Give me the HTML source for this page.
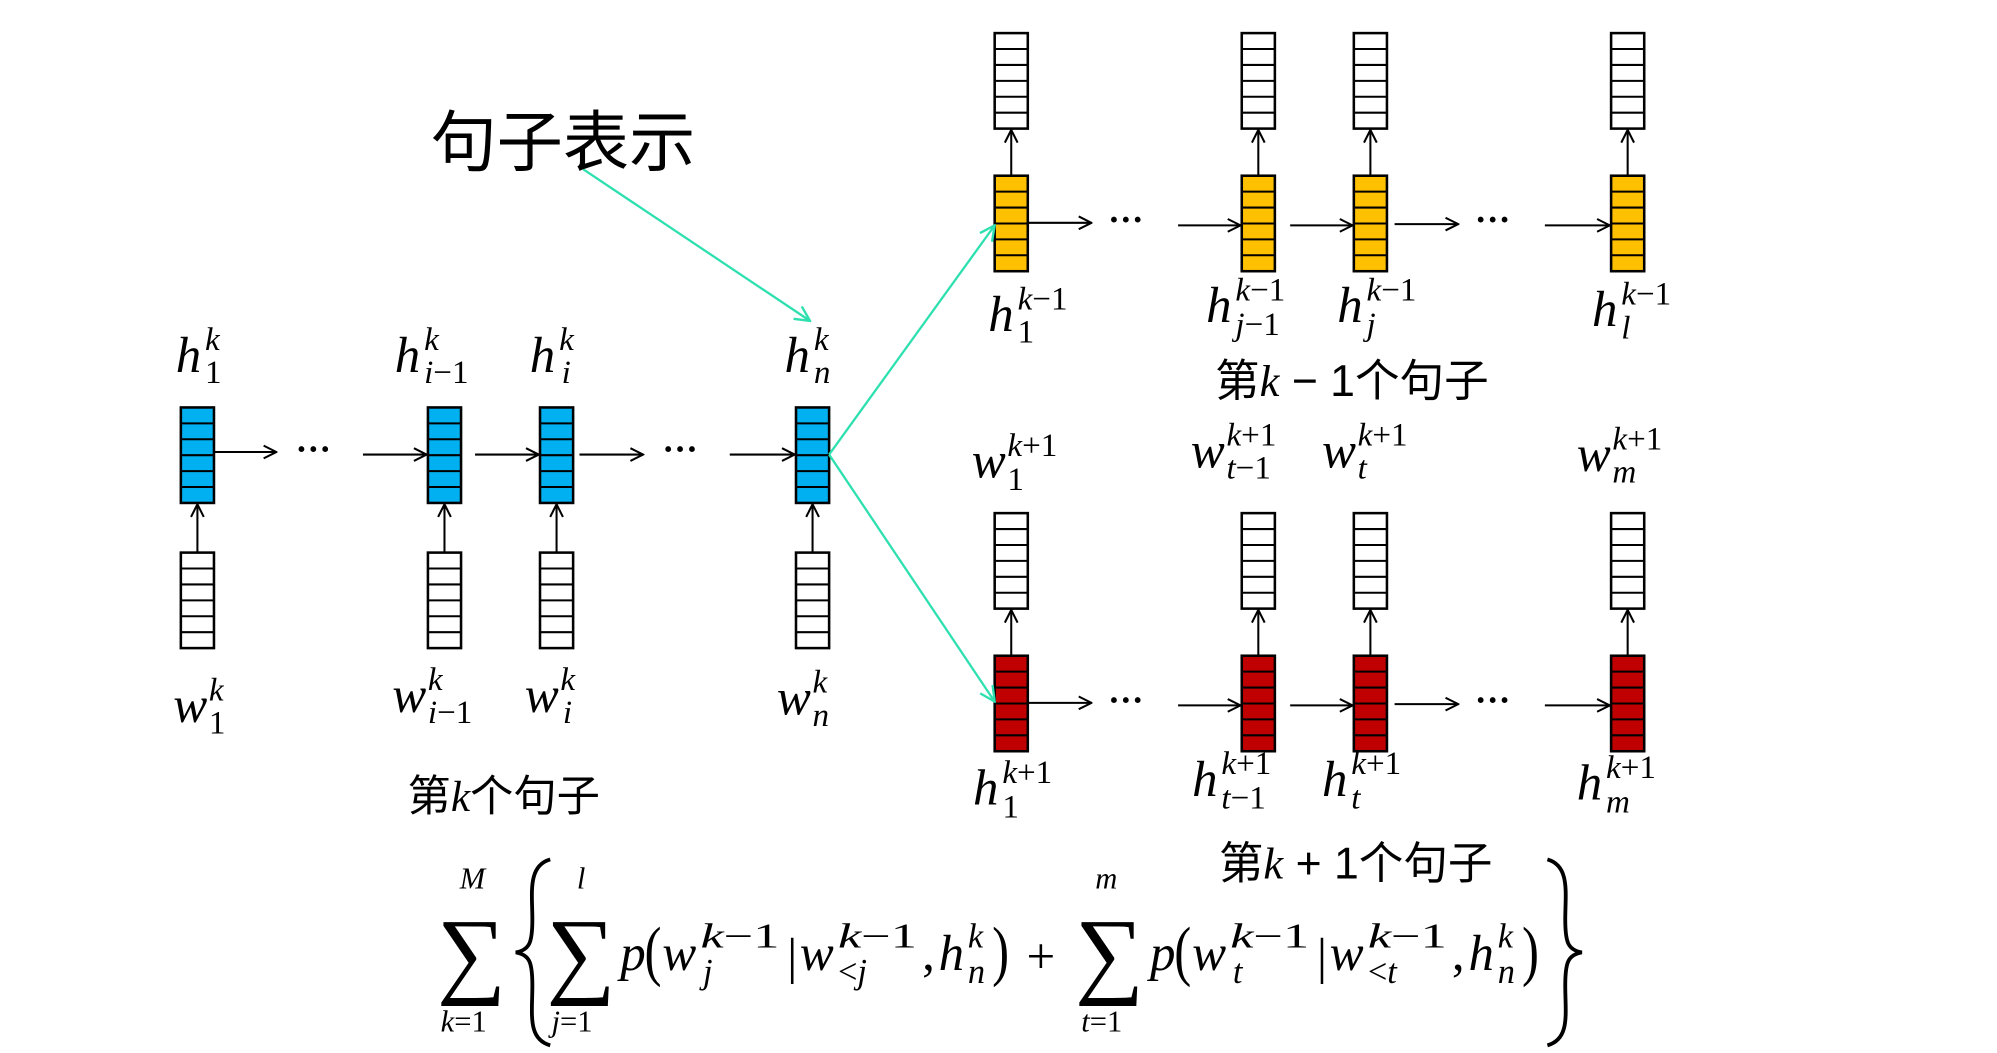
<!DOCTYPE html>
<html><head><meta charset="utf-8"><style>
html,body{margin:0;padding:0;background:#fff;}
svg{display:block}
.m{font-family:"Liberation Serif","DejaVu Serif",serif;font-style:italic;fill:#000}
.r{font-family:"Liberation Serif","DejaVu Serif",serif;font-style:normal;fill:#000}
.c{font-family:"Liberation Sans","Noto Sans CJK SC",sans-serif;fill:#000}
</style></head><body>
<svg width="1997" height="1053" viewBox="0 0 1568 827" preserveAspectRatio="none" xmlns="http://www.w3.org/2000/svg">
<defs>
<g id="lines" stroke="#000" stroke-width="1.6"><line x1="0" y1="12.5" x2="26" y2="12.5"/><line x1="0" y1="25" x2="26" y2="25"/><line x1="0" y1="37.5" x2="26" y2="37.5"/><line x1="0" y1="50" x2="26" y2="50"/><line x1="0" y1="62.5" x2="26" y2="62.5"/></g>
<g id="bw"><rect x="0" y="0" width="26" height="75" fill="#fff" stroke="#000" stroke-width="2"/><use href="#lines"/></g>
<g id="bb"><rect x="0" y="0" width="26" height="75" fill="#00b0f0" stroke="#000" stroke-width="2"/><use href="#lines"/></g>
<g id="bo"><rect x="0" y="0" width="26" height="75" fill="#ffc000" stroke="#000" stroke-width="2"/><use href="#lines"/></g>
<g id="br"><rect x="0" y="0" width="26" height="75" fill="#c00000" stroke="#000" stroke-width="2"/><use href="#lines"/></g>
<marker id="a" viewBox="0 0 12 12" refX="11" refY="6" markerWidth="12" markerHeight="12" markerUnits="userSpaceOnUse" orient="auto"><path d="M1,1 L11,6 L1,11" fill="none" stroke="#000" stroke-width="1.6"/></marker>
<marker id="g" viewBox="0 0 12 12" refX="11" refY="6" markerWidth="14" markerHeight="14" markerUnits="userSpaceOnUse" orient="auto"><path d="M1,1 L11,6 L1,11" fill="none" stroke="#2ee0b0" stroke-width="1.6"/></marker>
</defs>

<use href="#bb" x="142" y="320"/><use href="#bb" x="336" y="320"/><use href="#bb" x="424" y="320"/><use href="#bb" x="625" y="320"/>
<use href="#bw" x="142" y="434"/><use href="#bw" x="336" y="434"/><use href="#bw" x="424" y="434"/><use href="#bw" x="625" y="434"/>
<g stroke="#000" stroke-width="1.6" marker-end="url(#a)">
<line x1="155" y1="434" x2="155" y2="396"/><line x1="349" y1="434" x2="349" y2="396"/><line x1="437" y1="434" x2="437" y2="396"/><line x1="638" y1="434" x2="638" y2="396"/>
<line x1="168" y1="355" x2="217" y2="355"/><line x1="285" y1="357" x2="335" y2="357"/><line x1="373" y1="357" x2="423" y2="357"/><line x1="455" y1="357" x2="505" y2="357"/><line x1="573" y1="357" x2="624" y2="357"/>
</g>
<text class="r" x="232" y="362" font-size="28" font-weight="bold">···</text>
<text class="r" x="520" y="362" font-size="28" font-weight="bold">···</text>

<use href="#bo" x="781" y="138"/><use href="#bo" x="975" y="138"/><use href="#bo" x="1063" y="138"/><use href="#bo" x="1265" y="138"/>
<use href="#bw" x="781" y="26"/><use href="#bw" x="975" y="26"/><use href="#bw" x="1063" y="26"/><use href="#bw" x="1265" y="26"/>
<use href="#br" x="781" y="515"/><use href="#br" x="975" y="515"/><use href="#br" x="1063" y="515"/><use href="#br" x="1265" y="515"/>
<use href="#bw" x="781" y="403"/><use href="#bw" x="975" y="403"/><use href="#bw" x="1063" y="403"/><use href="#bw" x="1265" y="403"/>
<g stroke="#000" stroke-width="1.6" marker-end="url(#a)">
<line x1="794" y1="138" x2="794" y2="102"/><line x1="988" y1="138" x2="988" y2="102"/><line x1="1076" y1="138" x2="1076" y2="102"/><line x1="1278" y1="138" x2="1278" y2="102"/>
<line x1="807" y1="175" x2="857" y2="175"/><line x1="925" y1="177" x2="974" y2="177"/><line x1="1013" y1="177" x2="1062" y2="177"/><line x1="1095" y1="176" x2="1145" y2="176"/><line x1="1213" y1="177" x2="1264" y2="177"/>
<line x1="794" y1="515" x2="794" y2="479"/><line x1="988" y1="515" x2="988" y2="479"/><line x1="1076" y1="515" x2="1076" y2="479"/><line x1="1278" y1="515" x2="1278" y2="479"/>
<line x1="807" y1="552" x2="857" y2="552"/><line x1="925" y1="554" x2="974" y2="554"/><line x1="1013" y1="554" x2="1062" y2="554"/><line x1="1095" y1="553" x2="1145" y2="553"/><line x1="1213" y1="554" x2="1264" y2="554"/>
</g>
<text class="r" x="870" y="182" font-size="28" font-weight="bold">···</text>
<text class="r" x="1158" y="182" font-size="28" font-weight="bold">···</text>
<text class="r" x="870" y="559" font-size="28" font-weight="bold">···</text>
<text class="r" x="1158" y="559" font-size="28" font-weight="bold">···</text>

<g stroke="#2ee0b0" stroke-width="1.8" marker-end="url(#g)">
<line x1="458" y1="133" x2="636" y2="252"/>
<line x1="651" y1="357" x2="781" y2="177"/>
<line x1="651" y1="357" x2="781" y2="551"/>
</g>

<text class="c" x="338" y="130" font-size="52">句子表示</text>

<g class="m">
<text x="138" y="292" font-size="40">h</text><text x="161" y="275" font-size="26">k</text><text x="161" y="301" font-size="26" class="r">1</text>
<text x="310" y="292" font-size="40">h</text><text x="333" y="275" font-size="26">k</text><text x="333" y="301" font-size="26">i<tspan class="r">−1</tspan></text>
<text x="416" y="292" font-size="40">h</text><text x="439" y="275" font-size="26">k</text><text x="441" y="301" font-size="26">i</text>
<text x="616" y="292" font-size="40">h</text><text x="639" y="275" font-size="26">k</text><text x="639" y="301" font-size="26">n</text>
<text x="136" y="567" font-size="40">w</text><text x="164" y="550" font-size="26">k</text><text x="164" y="576" font-size="26" class="r">1</text>
<text x="308" y="559" font-size="40">w</text><text x="336" y="542" font-size="26">k</text><text x="336" y="568" font-size="26">i<tspan class="r">−1</tspan></text>
<text x="412" y="559" font-size="40">w</text><text x="440" y="542" font-size="26">k</text><text x="442" y="568" font-size="26">i</text>
<text x="610" y="561" font-size="40">w</text><text x="638" y="544" font-size="26">k</text><text x="638" y="570" font-size="26">n</text>
</g>
<text x="320" y="637" font-size="34" class="c">第<tspan class="m">k</tspan>个句子</text>

<g class="m">
<text x="776" y="260" font-size="40">h</text><text x="799" y="243" font-size="26">k<tspan class="r">−1</tspan></text><text x="799" y="269" font-size="26" class="r">1</text>
<text x="947" y="253" font-size="40">h</text><text x="970" y="236" font-size="26">k<tspan class="r">−1</tspan></text><text x="970" y="263" font-size="26">j<tspan class="r">−1</tspan></text>
<text x="1050" y="253" font-size="40">h</text><text x="1073" y="236" font-size="26">k<tspan class="r">−1</tspan></text><text x="1073" y="263" font-size="26">j</text>
<text x="1250" y="256" font-size="40">h</text><text x="1273" y="239" font-size="26">k<tspan class="r">−1</tspan></text><text x="1273" y="266" font-size="26">l</text>

<text x="763" y="375" font-size="40">w</text><text x="791" y="358" font-size="26">k<tspan class="r">+1</tspan></text><text x="791" y="385" font-size="26" class="r">1</text>
<text x="935" y="367" font-size="40">w</text><text x="963" y="350" font-size="26">k<tspan class="r">+1</tspan></text><text x="963" y="376" font-size="26">t<tspan class="r">−1</tspan></text>
<text x="1038" y="367" font-size="40">w</text><text x="1066" y="350" font-size="26">k<tspan class="r">+1</tspan></text><text x="1066" y="376" font-size="26">t</text>
<text x="1238" y="370" font-size="40">w</text><text x="1266" y="353" font-size="26">k<tspan class="r">+1</tspan></text><text x="1266" y="379" font-size="26">m</text>

<text x="764" y="632" font-size="40">h</text><text x="787" y="615" font-size="26">k<tspan class="r">+1</tspan></text><text x="787" y="642" font-size="26" class="r">1</text>
<text x="936" y="625" font-size="40">h</text><text x="959" y="608" font-size="26">k<tspan class="r">+1</tspan></text><text x="959" y="635" font-size="26">t<tspan class="r">−1</tspan></text>
<text x="1038" y="625" font-size="40">h</text><text x="1061" y="608" font-size="26">k<tspan class="r">+1</tspan></text><text x="1061" y="635" font-size="26">t</text>
<text x="1238" y="628" font-size="40">h</text><text x="1261" y="611" font-size="26">k<tspan class="r">+1</tspan></text><text x="1261" y="638" font-size="26">m</text>
</g>
<text x="954" y="311" font-size="35" class="c">第<tspan class="m">k</tspan> − 1个句子</text>
<text x="957" y="690" font-size="35" class="c">第<tspan class="m">k</tspan> + 1个句子</text>

<g>
<text class="m" x="361" y="698" font-size="24">M</text>
<text class="r" x="343" y="774" font-size="76">∑</text>
<text class="m" x="346" y="810" font-size="24">k<tspan class="r">=1</tspan></text>
<path d="M432,675 C414,680 418,702 418,722 C418,740 416,746 405,748 C416,750 418,756 418,774 C418,796 414,816 432,821" fill="none" stroke="#000" stroke-width="3"/>
<text class="m" x="453" y="698" font-size="24">l</text>
<text class="r" x="429" y="774" font-size="76">∑</text>
<text class="m" x="433" y="810" font-size="24">j<tspan class="r">=1</tspan></text>
<text class="m" x="487" y="762" font-size="40">p</text>
<text class="r" transform="translate(506,764) scale(1,1.3)" font-size="40">(</text>
<text class="m" x="520" y="762" font-size="40">w</text><text class="m" x="550" y="744" font-size="27" textLength="62" lengthAdjust="spacingAndGlyphs">k<tspan class="r">−1</tspan></text><text class="m" x="552" y="772" font-size="27">j</text>
<text class="r" x="618" y="764" font-size="40">|</text>
<text class="m" x="628" y="762" font-size="40">w</text><text class="m" x="658" y="744" font-size="27" textLength="62" lengthAdjust="spacingAndGlyphs">k<tspan class="r">−1</tspan></text><text class="m" x="658" y="772" font-size="27"><tspan class="r">&lt;</tspan>j</text>
<text class="r" x="724" y="762" font-size="40">,</text>
<text class="m" x="737" y="762" font-size="40">h</text><text class="m" x="760" y="744" font-size="27">k</text><text class="m" x="760" y="772" font-size="27">n</text>
<text class="r" transform="translate(779,764) scale(1,1.3)" font-size="40">)</text>
<text class="r" x="806" y="764" font-size="40">+</text>
<text class="m" x="860" y="698" font-size="24">m</text>
<text class="r" x="844" y="774" font-size="76">∑</text>
<text class="m" x="849" y="810" font-size="24">t<tspan class="r">=1</tspan></text>
<text class="m" x="903" y="762" font-size="40">p</text>
<text class="r" transform="translate(922,764) scale(1,1.3)" font-size="40">(</text>
<text class="m" x="936" y="762" font-size="40">w</text><text class="m" x="966" y="744" font-size="27" textLength="62" lengthAdjust="spacingAndGlyphs">k<tspan class="r">−1</tspan></text><text class="m" x="968" y="772" font-size="27">t</text>
<text class="r" x="1034" y="764" font-size="40">|</text>
<text class="m" x="1044" y="762" font-size="40">w</text><text class="m" x="1074" y="744" font-size="27" textLength="62" lengthAdjust="spacingAndGlyphs">k<tspan class="r">−1</tspan></text><text class="m" x="1074" y="772" font-size="27"><tspan class="r">&lt;</tspan>t</text>
<text class="r" x="1140" y="762" font-size="40">,</text>
<text class="m" x="1153" y="762" font-size="40">h</text><text class="m" x="1176" y="744" font-size="27">k</text><text class="m" x="1176" y="772" font-size="27">n</text>
<text class="r" transform="translate(1195,764) scale(1,1.3)" font-size="40">)</text>
<path d="M1215,675 C1233,680 1229,702 1229,722 C1229,740 1231,746 1242,748 C1231,750 1229,756 1229,774 C1229,796 1233,816 1215,821" fill="none" stroke="#000" stroke-width="3"/>
</g>
</svg>
</body></html>
